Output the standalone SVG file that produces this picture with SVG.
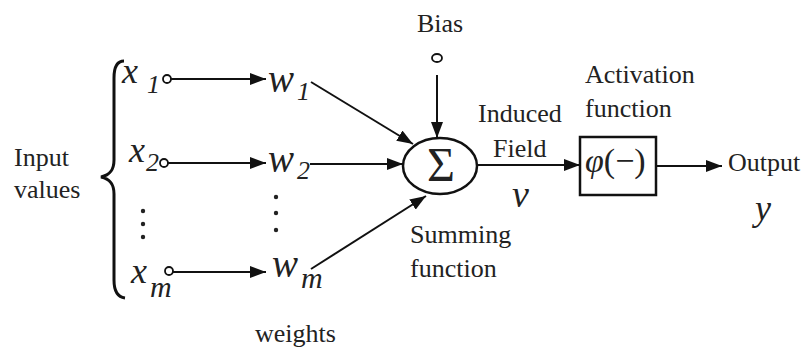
<svg xmlns="http://www.w3.org/2000/svg" width="807" height="352" viewBox="0 0 807 352">
<defs>
<marker id="ah" markerUnits="userSpaceOnUse" markerWidth="16" markerHeight="12" refX="16" refY="6" orient="auto">
<path d="M0,0 L16,6 L0,12 z" fill="#111"/>
</marker>
</defs>
<rect width="807" height="352" fill="#fff"/>

<g id="input-label">
<text x="14" y="166" style="font-family:'Liberation Serif';font-size:26px" fill="#222">Input</text>
<text x="14" y="198" style="font-family:'Liberation Serif';font-size:26px" fill="#222">values</text>
<path d="M124 61 C117 61 114 67 114 78 L114 160 C114 170 110 175 101 177 C110 179 114 184 114 194 L114 280 C114 291 117 297 125 298" fill="none" stroke="#111" stroke-width="3"/>
</g>

<g id="x1">
<text x="122" y="83" style="font-family:'Liberation Serif';font-style:italic;font-size:36px" fill="#222">x</text>
<text x="147" y="93" style="font-family:'Liberation Serif';font-style:italic;font-size:26px" fill="#222">1</text>
<circle cx="167" cy="79" r="4" fill="#fff" stroke="#111" stroke-width="1.8"/>
</g>
<g id="x2">
<text x="129" y="162" style="font-family:'Liberation Serif';font-style:italic;font-size:36px" fill="#222">x</text>
<text x="146" y="171" style="font-family:'Liberation Serif';font-style:italic;font-size:26px" fill="#222">2</text>
<circle cx="164" cy="163" r="4" fill="#fff" stroke="#111" stroke-width="1.8"/>
</g>
<g id="xm">
<text x="131" y="283" style="font-family:'Liberation Serif';font-style:italic;font-size:36px" fill="#222">x</text>
<text x="150" y="297" style="font-family:'Liberation Serif';font-style:italic;font-size:30px" fill="#222">m</text>
<circle cx="169" cy="271" r="4" fill="#fff" stroke="#111" stroke-width="1.8"/>
</g>
<g id="x-dots" fill="#222">
<circle cx="143" cy="211" r="2.2"/>
<circle cx="143" cy="224" r="2.2"/>
<circle cx="143" cy="237" r="2.2"/>
</g>

<g id="w1">
<text x="268" y="92" style="font-family:'Liberation Serif';font-style:italic;font-size:39px" fill="#222">w</text>
<text x="297" y="100" style="font-family:'Liberation Serif';font-style:italic;font-size:26px" fill="#222">1</text>
</g>
<g id="w2">
<text x="268" y="172" style="font-family:'Liberation Serif';font-style:italic;font-size:39px" fill="#222">w</text>
<text x="297" y="179" style="font-family:'Liberation Serif';font-style:italic;font-size:26px" fill="#222">2</text>
</g>
<g id="wm">
<text x="272" y="277" style="font-family:'Liberation Serif';font-style:italic;font-size:39px" fill="#222">w</text>
<text x="301" y="288" style="font-family:'Liberation Serif';font-style:italic;font-size:30px" fill="#222">m</text>
</g>
<g id="w-dots" fill="#222">
<circle cx="276" cy="197" r="2.2"/>
<circle cx="276" cy="213" r="2.2"/>
<circle cx="276" cy="230" r="2.2"/>
</g>
<g id="weights-label">
<text x="255" y="342" style="font-family:'Liberation Serif';font-size:26px" fill="#222">weights</text>
</g>

<g id="bias">
<text x="417" y="32" style="font-family:'Liberation Serif';font-size:26px" fill="#222">Bias</text>
<ellipse cx="437" cy="58" rx="5" ry="4" fill="#fff" stroke="#111" stroke-width="1.8"/>
</g>

<g id="sum">
<ellipse cx="440" cy="166" rx="37" ry="28" fill="#fff" stroke="#111" stroke-width="2.5"/>
<text x="441" y="181" text-anchor="middle" style="font-family:'Liberation Serif';font-size:48px" fill="#222">Σ</text>
<text x="410" y="243" style="font-family:'Liberation Serif';font-size:26px" fill="#222">Summing</text>
<text x="410" y="277" style="font-family:'Liberation Serif';font-size:26px" fill="#222">function</text>
</g>

<g id="induced-field">
<text x="478" y="122" style="font-family:'Liberation Serif';font-size:26px" fill="#222">Induced</text>
<text x="493" y="157" style="font-family:'Liberation Serif';font-size:26px" fill="#222">Field</text>
<text x="512" y="207" style="font-family:'Liberation Serif';font-style:italic;font-size:38px" fill="#222">v</text>
</g>

<g id="activation">
<text x="585" y="83" style="font-family:'Liberation Serif';font-size:26px" fill="#222">Activation</text>
<text x="585" y="117" style="font-family:'Liberation Serif';font-size:26px" fill="#222">function</text>
<rect x="580" y="137" width="76" height="58" fill="#fff" stroke="#111" stroke-width="2.5"/>
<text x="585" y="172" style="font-family:'Liberation Serif';font-size:34px" fill="#222"><tspan style="font-style:italic">φ</tspan>(−)</text>
</g>

<g id="output">
<text x="728" y="171" style="font-family:'Liberation Serif';font-size:26px" fill="#222">Output</text>
<text x="755" y="220" style="font-family:'Liberation Serif';font-style:italic;font-size:36px" fill="#222">y</text>
</g>

<g id="connectors" stroke="#111" stroke-width="2" fill="none" marker-end="url(#ah)">
<line x1="171" y1="79" x2="266" y2="79"/>
<line x1="168" y1="163" x2="266" y2="163"/>
<line x1="173" y1="272" x2="266" y2="272"/>
<line x1="311" y1="82" x2="413" y2="144"/>
<line x1="310" y1="164" x2="403" y2="164"/>
<line x1="311" y1="269" x2="426" y2="196"/>
<line x1="437" y1="75" x2="437" y2="138"/>
<line x1="477" y1="165" x2="580" y2="165"/>
<line x1="656" y1="166" x2="722" y2="166"/>
</g>
</svg>
